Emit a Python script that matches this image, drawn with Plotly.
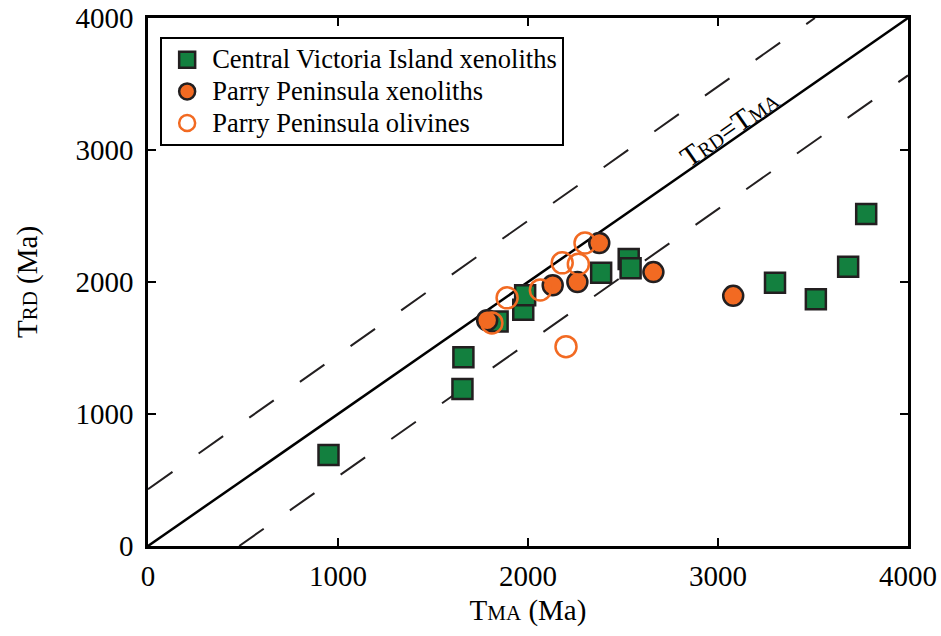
import plotly.graph_objects as go

# Central Victoria Island xenoliths
cvi_tma = [950, 1655, 1660, 1840, 1975, 1985, 2385, 2530, 2540, 3300, 3515, 3685, 3780]
cvi_trd = [690, 1190, 1430, 1700, 1790, 1900, 2070, 2175, 2105, 1995, 1870, 2115, 2515]

# Parry Peninsula xenoliths
ppx_tma = [1785, 2130, 2260, 2375, 2660, 3080]
ppx_trd = [1710, 1975, 2000, 2295, 2075, 1895]

# Parry Peninsula olivines
ppo_tma = [1810, 1890, 2065, 2180, 2200, 2265, 2300]
ppo_trd = [1690, 1880, 1940, 2145, 1510, 2135, 2295]

# Reference lines
one_to_one_x = [0, 4000]
one_to_one_y = [0, 4000]
upper_x = [0, 3510]
upper_y = [430, 4000]
lower_x = [480, 4000]
lower_y = [0, 3565]

tick_vals = [0, 1000, 2000, 3000, 4000]

GREEN = "#13803F"
ORANGE = "#F26A22"
DARK = "#231F20"
FONT = "Liberation Serif"


def big(name):
    return "<span style='font-size:26.5px'>" + name + "</span>"


fig = go.Figure()

fig.add_trace(go.Scatter(x=upper_x, y=upper_y, mode="lines",
                         line=dict(color=DARK, width=2, dash="30px,32px"),
                         showlegend=False, hoverinfo="skip"))
fig.add_trace(go.Scatter(x=lower_x, y=lower_y, mode="lines",
                         line=dict(color=DARK, width=2, dash="30px,32px"),
                         showlegend=False, hoverinfo="skip"))
fig.add_trace(go.Scatter(x=one_to_one_x, y=one_to_one_y, mode="lines",
                         line=dict(color="black", width=2.5),
                         showlegend=False, hoverinfo="skip"))

fig.add_trace(go.Scatter(x=cvi_tma, y=cvi_trd, mode="markers",
                         name=big("Central Victoria Island xenoliths"),
                         marker=dict(symbol="square", size=20, color=GREEN,
                                     line=dict(color=DARK, width=2.5))))
fig.add_trace(go.Scatter(x=ppx_tma, y=ppx_trd, mode="markers",
                         name=big("Parry Peninsula xenoliths"),
                         marker=dict(symbol="circle", size=20, color=ORANGE,
                                     line=dict(color=DARK, width=2.5))))
fig.add_trace(go.Scatter(x=ppo_tma, y=ppo_trd, mode="markers",
                         name=big("Parry Peninsula olivines"),
                         marker=dict(symbol="circle-open", size=21, color=ORANGE,
                                     line=dict(color=ORANGE, width=2.5))))

axis_common = dict(range=[0, 4000], tickvals=tick_vals, ticks="inside", ticklen=8,
                   tickwidth=2, tickcolor="black", showline=True, linewidth=2.5,
                   linecolor="black", mirror="allticks", showgrid=False, zeroline=False,
                   automargin=False,
                   tickfont=dict(family=FONT, size=29, color="black"))

fig.update_xaxes(**axis_common, ticklabelstandoff=2,
                 title=dict(text="T<span style='font-size:21px'>MA</span> (Ma)",
                            font=dict(family=FONT, size=29, color="black"), standoff=10))
fig.update_yaxes(**axis_common, ticklabelstandoff=6,
                 title=dict(text="T<span style='font-size:21px'>RD</span> (Ma)",
                            font=dict(family=FONT, size=29, color="black"), standoff=30))

fig.add_annotation(x=3060, y=3170, xref="x", yref="y", showarrow=False,
                   text="T<span style='font-size:20px'>RD</span>=T<span style='font-size:20px'>MA</span>",
                   textangle=-34.8, font=dict(family=FONT, size=29, color="black"))

fig.update_layout(
    width=941, height=636,
    margin=dict(l=148, r=33, t=18, b=90),
    plot_bgcolor="white", paper_bgcolor="white",
    legend=dict(x=0.016, y=0.964, xanchor="left", yanchor="top",
                bgcolor="white", bordercolor="black", borderwidth=2,
                font=dict(family=FONT, size=22, color="black"),
                itemwidth=40, tracegroupgap=0),
)

fig.write_html("out.html")
